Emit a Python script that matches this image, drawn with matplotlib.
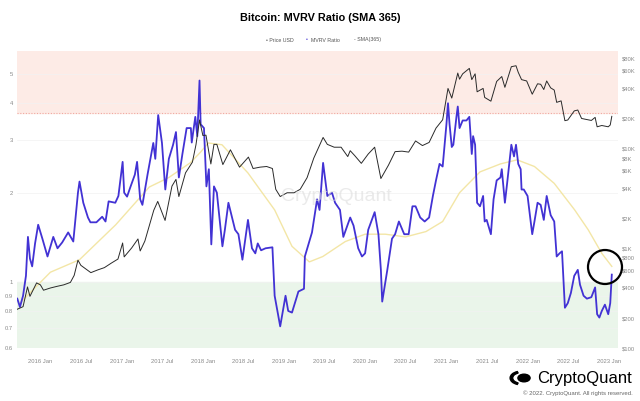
import matplotlib
matplotlib.use("Agg")
import matplotlib.pyplot as plt
from matplotlib.patches import Ellipse, Circle, Wedge
import pandas as pd

# MVRV
fechas_mvrv = ["2015-09-19", "2015-10-01", "2015-10-15", "2015-10-28", "2015-11-06", "2015-11-15", "2015-11-25",
               "2015-12-08", "2015-12-22", "2016-01-10", "2016-02-02", "2016-02-28", "2016-03-18", "2016-04-08",
               "2016-05-05", "2016-05-28", "2016-06-18", "2016-06-25", "2016-07-12", "2016-08-02", "2016-08-13",
               "2016-09-09", "2016-10-05", "2016-10-20", "2016-11-03", "2016-12-03", "2016-12-17", "2017-01-05",
               "2017-01-12", "2017-01-25", "2017-02-09", "2017-03-01", "2017-03-11", "2017-03-25", "2017-04-04",
               "2017-04-27", "2017-05-23", "2017-06-01", "2017-06-14", "2017-07-01", "2017-07-16", "2017-08-01",
               "2017-08-20", "2017-09-02", "2017-09-15", "2017-10-01", "2017-10-20", "2017-11-08", "2017-11-12",
               "2017-11-28", "2017-12-07", "2017-12-17", "2017-12-22", "2018-01-06", "2018-01-17", "2018-01-28",
               "2018-02-08", "2018-02-20", "2018-03-05", "2018-03-30", "2018-04-10", "2018-04-26", "2018-05-26",
               "2018-06-10", "2018-06-28", "2018-07-23", "2018-08-10", "2018-08-25", "2018-09-05", "2018-09-20",
               "2018-10-10", "2018-11-10", "2018-11-20", "2018-12-15", "2019-01-08", "2019-01-20", "2019-02-06",
               "2019-03-07", "2019-04-01", "2019-04-05", "2019-05-07", "2019-05-30", "2019-06-10", "2019-06-26",
               "2019-07-15", "2019-08-05", "2019-08-19", "2019-09-10", "2019-09-25", "2019-10-26", "2019-11-10",
               "2019-12-01", "2019-12-18", "2020-01-01", "2020-01-15", "2020-02-13", "2020-03-01", "2020-03-12",
               "2020-03-18", "2020-04-10", "2020-05-01", "2020-05-15", "2020-06-01", "2020-06-25", "2020-07-15",
               "2020-08-01", "2020-08-15", "2020-09-05", "2020-09-25", "2020-10-15", "2020-11-01", "2020-11-15",
               "2020-12-01", "2020-12-15", "2021-01-01", "2021-01-08", "2021-01-15", "2021-01-25", "2021-02-01",
               "2021-02-15", "2021-02-21", "2021-03-01", "2021-03-15", "2021-04-01", "2021-04-14", "2021-04-25",
               "2021-05-01", "2021-05-10", "2021-05-19", "2021-06-01", "2021-06-15", "2021-06-22", "2021-07-01",
               "2021-07-20", "2021-08-01", "2021-08-15", "2021-09-01", "2021-09-07", "2021-09-21", "2021-10-01",
               "2021-10-20", "2021-11-01", "2021-11-10", "2021-11-20", "2021-12-01", "2021-12-05", "2021-12-15",
               "2022-01-01", "2022-01-22", "2022-02-01", "2022-02-15", "2022-03-01", "2022-03-15", "2022-03-28",
               "2022-04-15", "2022-05-01", "2022-05-12", "2022-05-25", "2022-06-05", "2022-06-18", "2022-07-01",
               "2022-07-15", "2022-07-30", "2022-08-15", "2022-08-25", "2022-09-10", "2022-09-25", "2022-10-15",
               "2022-11-01", "2022-11-10", "2022-11-20", "2022-12-01", "2022-12-15", "2022-12-30", "2023-01-08",
               "2023-01-15"]
mvrv = [0.88, 0.825, 0.9, 1.05, 1.42, 1.2, 1.13, 1.35, 1.56, 1.4, 1.22, 1.42, 1.3, 1.36,
        1.47, 1.37, 2.0, 2.18, 1.85, 1.65, 1.59, 1.59, 1.66, 1.6, 1.87, 1.85, 1.95, 2.54,
        2.0, 1.94, 2.09, 2.3, 2.54, 1.9, 1.82, 2.3, 2.94, 2.6, 3.65, 2.94, 2.05, 2.6,
        2.9, 3.2, 2.25, 2.7, 3.3, 3.3, 2.95, 3.6, 3.1, 4.77, 3.4, 3.3, 2.1, 2.4,
        1.34, 2.1, 2.0, 1.32, 1.5, 1.85, 1.5, 1.45, 1.19, 1.62, 1.3, 1.25, 1.35, 1.28,
        1.3, 1.31, 0.9, 0.71, 0.9, 0.8, 0.79, 0.93, 0.95, 1.22, 1.47, 1.9, 1.75, 2.52,
        1.95, 2.0, 1.85, 1.75, 1.42, 1.65, 1.55, 1.3, 1.22, 1.25, 1.5, 1.72, 1.45, 1.1,
        0.86, 1.1, 1.4, 1.45, 1.6, 1.45, 1.45, 1.8, 1.8, 1.65, 1.6, 1.65, 1.95, 2.2,
        2.5, 2.45, 3.4, 4.0, 3.4, 2.85, 2.9, 3.6, 3.9, 3.3, 3.5, 3.5, 3.6, 2.7,
        3.1, 2.9, 1.85, 1.8, 1.95, 1.6, 1.62, 1.45, 1.9, 2.2, 2.25, 2.4, 1.85, 2.15,
        2.9, 2.65, 2.9, 2.5, 2.4, 2.05, 2.05, 1.95, 1.45, 1.6, 1.85, 1.82, 1.62, 1.95,
        1.68, 1.6, 1.22, 1.25, 1.27, 0.82, 0.85, 0.92, 1.05, 1.1, 0.98, 0.9, 0.88, 0.89,
        0.96, 0.78, 0.76, 0.8, 0.84, 0.78, 0.85, 1.06]

# Precio USD
fechas_precio = ["2015-09-19", "2015-10-15", "2015-11-04", "2015-11-15", "2015-12-15", "2016-01-01", "2016-01-15",
                 "2016-02-15", "2016-03-15", "2016-04-15", "2016-05-15", "2016-06-01", "2016-06-18", "2016-07-01",
                 "2016-08-15", "2016-09-15", "2016-10-15", "2016-11-15", "2016-12-15", "2017-01-05", "2017-01-12",
                 "2017-02-15", "2017-03-15", "2017-03-25", "2017-04-15", "2017-05-25", "2017-06-12", "2017-07-15",
                 "2017-08-15", "2017-09-02", "2017-09-15", "2017-10-15", "2017-11-15", "2017-12-01", "2017-12-17",
                 "2018-01-01", "2018-01-15", "2018-02-06", "2018-02-20", "2018-03-05", "2018-04-01", "2018-05-05",
                 "2018-06-15", "2018-07-25", "2018-08-15", "2018-09-15", "2018-10-15", "2018-11-10", "2018-11-25",
                 "2018-12-15", "2019-01-15", "2019-02-15", "2019-03-15", "2019-04-15", "2019-05-15", "2019-06-26",
                 "2019-07-15", "2019-08-15", "2019-09-15", "2019-10-15", "2019-10-26", "2019-11-15", "2019-12-15",
                 "2020-01-15", "2020-02-13", "2020-03-12", "2020-04-15", "2020-05-15", "2020-06-15", "2020-07-15",
                 "2020-08-15", "2020-09-15", "2020-10-15", "2020-11-15", "2020-12-15", "2021-01-08", "2021-01-25",
                 "2021-02-21", "2021-03-01", "2021-03-15", "2021-04-14", "2021-04-25", "2021-05-10", "2021-05-19",
                 "2021-06-15", "2021-06-22", "2021-07-20", "2021-08-15", "2021-09-07", "2021-09-21", "2021-10-20",
                 "2021-11-10", "2021-11-20", "2021-12-05", "2021-12-28", "2022-01-22", "2022-02-15", "2022-03-01",
                 "2022-03-15", "2022-03-28", "2022-04-15", "2022-05-01", "2022-05-12", "2022-06-01", "2022-06-18",
                 "2022-07-01", "2022-07-30", "2022-08-15", "2022-09-01", "2022-09-15", "2022-10-15", "2022-11-01",
                 "2022-11-10", "2022-12-01", "2022-12-30", "2023-01-08", "2023-01-15"]
precio = [245, 260, 410, 330, 450, 430, 380, 400, 415, 430, 455, 535, 760, 675,
          570, 607, 640, 710, 780, 1130, 820, 1010, 1240, 940, 1180, 2400, 2950, 1900,
          4200, 4900, 3300, 5700, 7300, 10900, 19300, 13500, 13600, 7000, 11000, 11000, 6900, 9700,
          6500, 8200, 6300, 6500, 6600, 6300, 3900, 3300, 3600, 3600, 3900, 5100, 8000, 12900,
          11000, 10300, 10300, 8300, 9500, 8500, 7100, 8800, 10300, 5000, 6800, 9300, 9400, 9200,
          11900, 10700, 11500, 16000, 19400, 40000, 32000, 57000, 49500, 56000, 63500, 49000, 56000, 37000,
          40000, 32500, 29800, 47000, 52600, 41000, 66000, 67500, 58000, 49000, 47500, 35000, 44500, 44000,
          39000, 47500, 40500, 38500, 29000, 30000, 19000, 19300, 23800, 24300, 20000, 19700, 19100, 20500,
          16500, 17000, 16500, 17200, 21000]

# SMA(365)
fechas_sma = ["2015-10-01", "2015-11-15", "2016-02-15", "2016-06-25", "2016-12-05", "2017-05-05",
              "2017-08-01", "2017-11-05", "2017-12-22", "2018-01-25", "2018-03-28", "2018-07-23",
              "2018-11-20", "2019-02-06", "2019-04-25", "2019-06-25", "2019-10-04", "2020-01-01",
              "2020-04-01", "2020-07-01", "2020-10-01", "2020-12-15", "2021-03-01", "2021-06-01",
              "2021-09-01", "2021-11-15", "2022-02-01", "2022-05-01", "2022-08-01", "2022-10-01",
              "2022-12-01", "2023-01-15"]
sma = [0.85, 0.92, 1.08, 1.19, 1.56, 2.09, 2.25, 2.52, 2.74, 2.94, 2.9, 2.33,
       1.75, 1.32, 1.17, 1.22, 1.37, 1.45, 1.45, 1.42, 1.48, 1.6, 2.0, 2.35,
       2.5, 2.58, 2.45, 2.15, 1.75, 1.5, 1.25, 1.13]

ticks_izq = [0.6, 0.7, 0.8, 0.9, 1, 2, 3, 4, 5]
ticks_der = [100, 200, 400, 600, 800, 1000, 2000, 4000, 6000, 8000, 10000, 20000, 40000, 60000, 80000]
etiquetas_der = ["$100", "$200", "$400", "$600", "$800", "$1K", "$2K", "$4K", "$6K", "$8K",
                 "$10K", "$20K", "$40K", "$60K", "$80K"]
ticks_x = pd.date_range("2016-01-01", "2023-01-01", freq="6MS")

plt.rcParams['font.family'] = ['Liberation Sans', 'DejaVu Sans']

fig = plt.figure(figsize=(6.4, 4.01), dpi=100)
ax = fig.add_axes([0.027, 0.132, 0.939, 0.741])
ax2 = ax.twinx()

azul = '#4232d4'
gris = '#8a8a8a'

ax.set_yscale('log')
ax.set_ylim(0.6, 6.0)
ax.set_xlim(pd.Timestamp("2015-09-19"), pd.Timestamp("2023-02-13"))
ax.axhspan(3.7, 6.0, color='#fdebe6', zorder=0)
ax.axhspan(0.6, 1.0, color='#eaf5ea', zorder=0)
ax.axhline(3.7, color='#f0a8a0', lw=0.8, ls=(0, (1, 1.5)), zorder=1)
for t in ticks_izq:
    ax.axhline(t, color='#f2f2f2', lw=0.5, zorder=0.5)

ax.plot(pd.to_datetime(fechas_sma), sma, color='#f3e6a6', lw=1.0, zorder=2)
ax.plot(pd.to_datetime(fechas_mvrv), mvrv, color=azul, lw=1.3, zorder=4)

ax2.set_yscale('log')
ax2.set_ylim(100, 95000)
ax2.plot(pd.to_datetime(fechas_precio), precio, color='#2a2a2a', lw=0.7, zorder=3)

ax.set_yticks(ticks_izq)
ax.set_yticklabels([str(t) for t in ticks_izq])
ax.yaxis.set_minor_locator(matplotlib.ticker.NullLocator())
ax2.set_yticks(ticks_der)
ax2.set_yticklabels(etiquetas_der)
ax2.yaxis.set_minor_locator(matplotlib.ticker.NullLocator())
ax.set_xticks(ticks_x)
ax.set_xticklabels([d.strftime("%Y %b") for d in ticks_x])

for a in (ax, ax2):
    for s in a.spines.values():
        s.set_visible(False)
    a.tick_params(length=0, labelsize=4.2, labelcolor=gris)
ax.tick_params(axis='y', pad=3)
ax2.tick_params(axis='y', pad=3)
ax.tick_params(axis='x', pad=8)

# circulo de anotacion
fig.patches.append(Ellipse((605 / 640, 1 - 267 / 401), 34 / 640, 34 / 401, transform=fig.transFigure,
                           fill=False, ec='black', lw=1.6, zorder=10))

# titulo y leyenda
fig.text(0.5, 1 - 18 / 401, "Bitcoin: MVRV Ratio (SMA 365)", ha='center', va='center',
         fontsize=7.8, fontweight='bold')
fig.text(0.416, 1 - 40 / 401, "\u2022 Price USD", ha='left', va='center', fontsize=3.8, color='#555555')
fig.text(0.478, 1 - 40 / 401, "\u2022", ha='left', va='center', fontsize=3.8, color=azul)
fig.text(0.486, 1 - 40 / 401, "MVRV Ratio", ha='left', va='center', fontsize=3.8, color='#555555')
fig.text(0.553, 1 - 40 / 401, "- SMA(365)", ha='left', va='center', fontsize=3.8, color='#555555')

# marca de agua
fig.text(0.525, 1 - 197 / 401, "CryptoQuant", ha='center', va='center', fontsize=14,
         color='#dcdcdc', alpha=0.6, zorder=0)

# logo
fig.patches.append(Circle((524 / 640, 1 - 378 / 401), 0.0095, transform=fig.transFigure, color='black'))
fig.patches.append(Wedge((521 / 640, 1 - 378 / 401), 0.017, 110, 250, width=0.004,
                         transform=fig.transFigure, color='black'))
fig.text(0.988, 1 - 378 / 401, "CryptoQuant", ha='right', va='center', fontsize=12, color='black')
fig.text(0.988, 1 - 393 / 401, "\u00a9 2022. CryptoQuant. All rights reserved.", ha='right', va='center',
         fontsize=4.3, color='#666666')

fig.savefig("out.png", dpi=100)
